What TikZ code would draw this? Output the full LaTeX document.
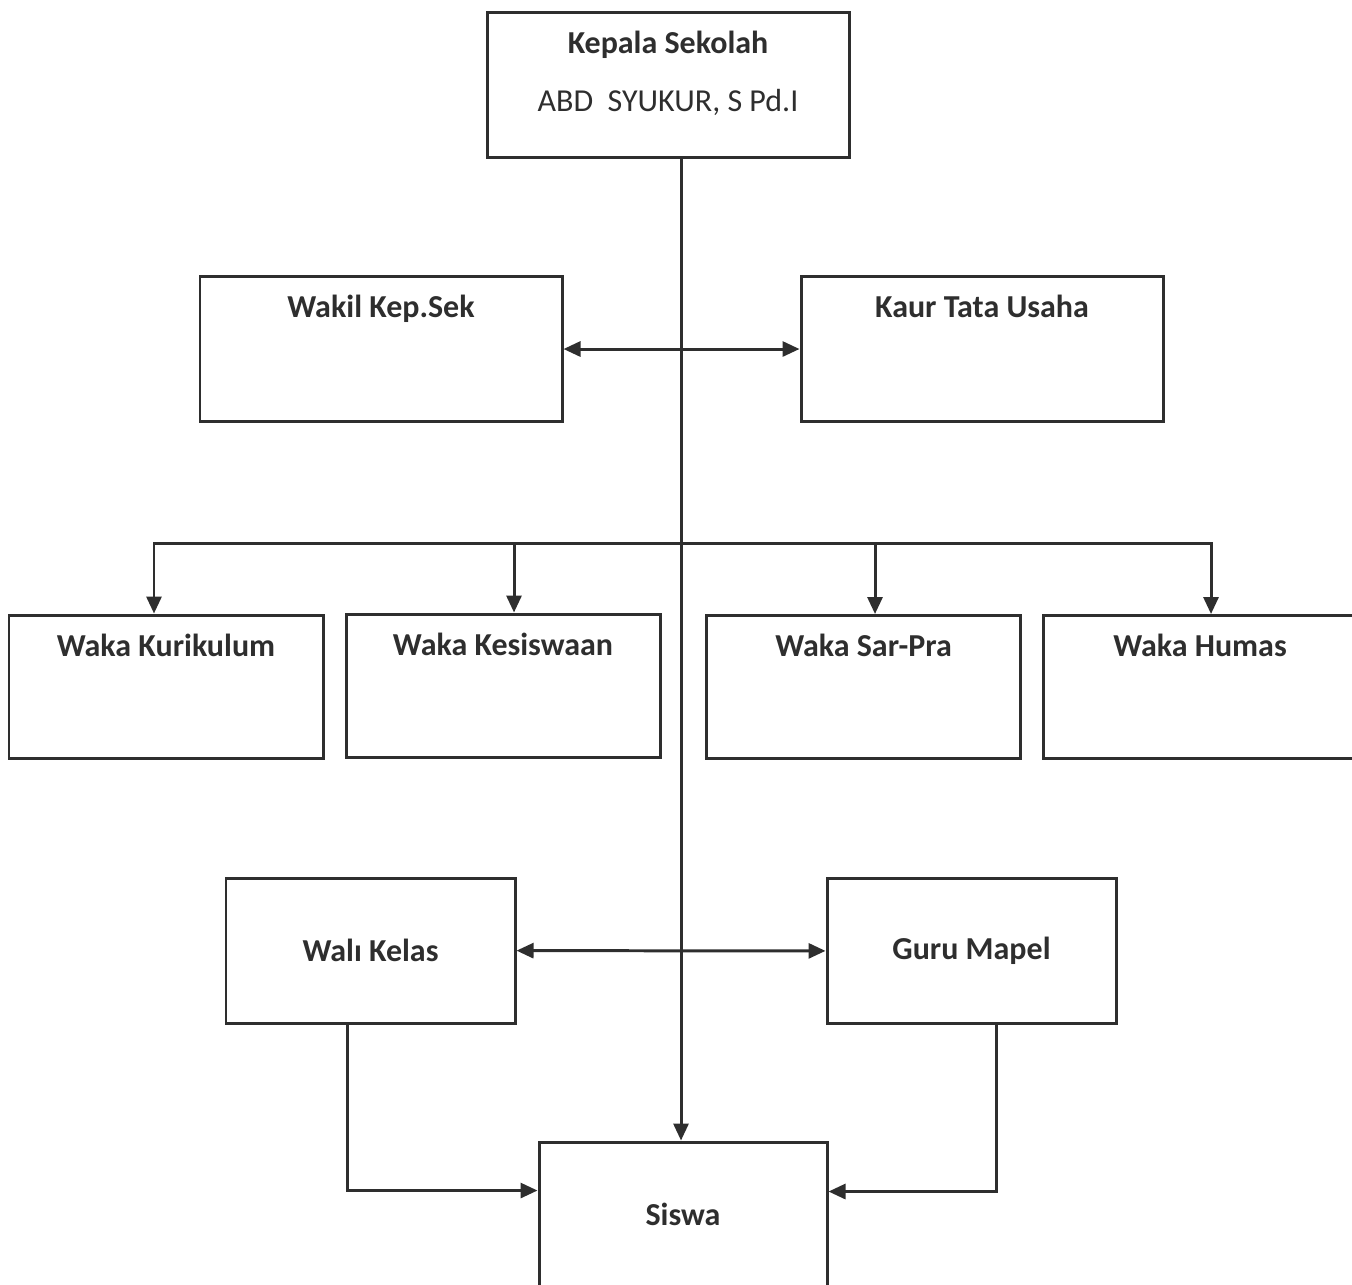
\documentclass[tikz,border=0pt]{standalone}
\usepackage{fontspec}
\setmainfont{Carlito}
\usetikzlibrary{positioning, arrows.meta}
\definecolor{ink}{HTML}{2E2E2E}
\tikzset{
    org box/.style = {draw=ink, line width=0.85pt, text=ink, font=\fontsize{9.1}{11}\selectfont\bfseries, inner xsep=0pt},
    top box/.style = {org box, text height=0.22cm, text depth=0.85cm, inner ysep=0.19cm},
    mid box/.style = {org box, minimum height=1.45cm},
    link/.style = {draw=ink, line width=0.85pt, -{Triangle[length=0.17cm, width=0.15cm]}},
    both link/.style = {draw=ink, line width=0.85pt, {Triangle[length=0.17cm, width=0.15cm]}-{Triangle[length=0.17cm, width=0.15cm]}},
}

\begin{document}
\begin{tikzpicture}
        \useasboundingbox (0, 0) rectangle (13.52, -12.84);

        \node[top box, minimum width=3.62cm, align=center, text height=0.80cm, text depth=0.27cm] (kepsek) at (6.68, -0.845) {Kepala Sekolah\\[0.19cm]\mdseries ABD~~SYUKUR, S Pd.I};

        \node[top box, minimum width=3.62cm] (wakil) at (3.81, -3.49) {Wakil Kep.Sek};
        \node[top box, minimum width=3.62cm] (kaur) at (9.82, -3.49) {Kaur Tata Usaha};

        \node[top box, minimum width=3.14cm, text depth=0.83cm] (kur) at (1.66, -6.865) {Waka Kurikulum};
        \node[top box, minimum width=3.14cm, text depth=0.83cm] (kes) at (5.03, -6.855) {Waka Kesiswaan};
        \node[top box, minimum width=3.14cm, text depth=0.83cm] (sarpra) at (8.635, -6.87) {Waka Sar-Pra};
        \node[top box, minimum width=3.14cm, text depth=0.83cm] (humas) at (12.0, -6.87) {Waka Humas};

        \node[mid box, minimum width=2.89cm] (wali) at (3.705, -9.505) {Walı Kelas};
        \node[mid box, minimum width=2.89cm] (guru) at (9.715, -9.51) {Guru Mapel};

        \node[mid box, minimum width=2.88cm] (siswa) at (6.83, -12.145) {Siswa};

        % spine and branches
        \coordinate (top) at (6.81, -1.57);
        \coordinate (branch) at (6.81, -5.43);
        \draw[link] (top) -- (top |- siswa.north);
        \draw[both link] (wakil) -- (kaur);
        \draw[link] (branch) -| ([xshift=-0.12cm]kur.north);
        \draw[link] (branch) -| ([xshift=0.11cm]kes.north);
        \draw[link] (branch) -| ([xshift=0.115cm]sarpra.north);
        \draw[link] (branch) -| ([xshift=0.11cm]humas.north);
        \draw[both link] (wali) -- (guru);
        \draw[link] ([xshift=-0.235cm]wali.south) |- ([yshift=0.24cm]siswa.west);
        \draw[link] ([xshift=0.245cm]guru.south) |- ([yshift=0.23cm]siswa.east);
    \end{tikzpicture}
\end{document}
